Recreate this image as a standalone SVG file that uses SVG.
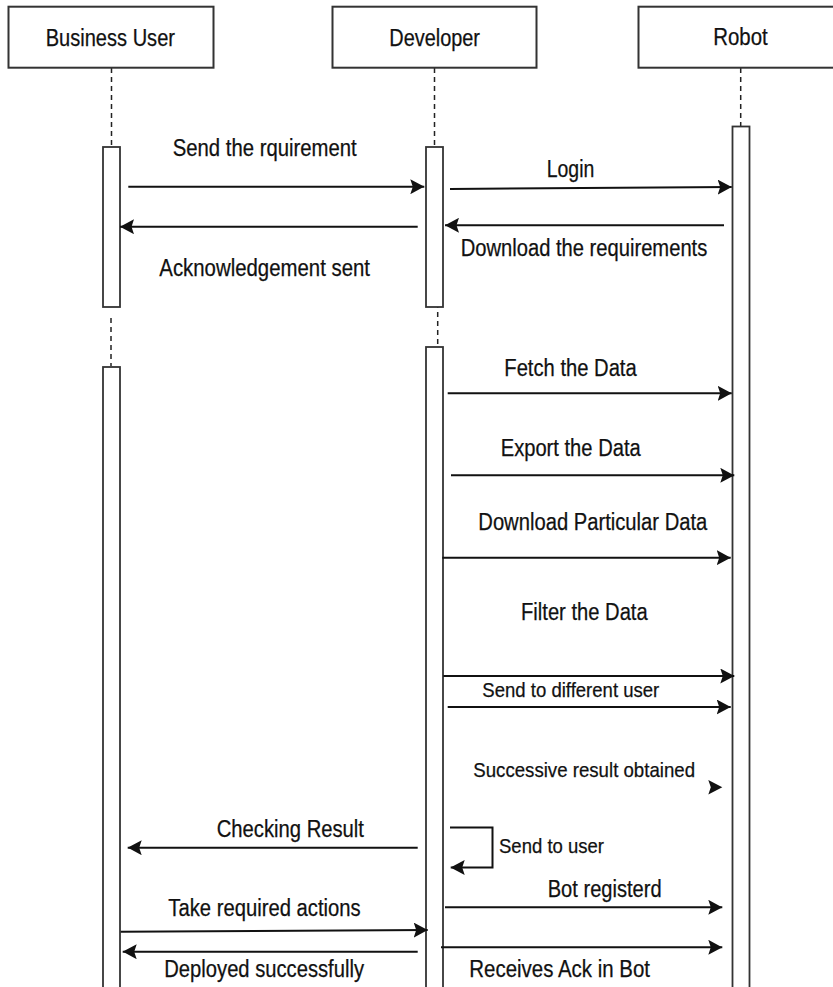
<svg xmlns="http://www.w3.org/2000/svg" width="833" height="987" viewBox="0 0 833 987">
<defs>
<style>
.box{fill:#fff;stroke:#333;stroke-width:2}
.act{fill:#fff;stroke:#333;stroke-width:1.8}
.life{stroke:#222;stroke-width:1.5;stroke-dasharray:5 4;fill:none}
.msg{stroke:#111;stroke-width:2;fill:none;marker-end:url(#ah)}
.t{font-family:"Liberation Sans",Arial,sans-serif;font-size:23px;fill:#111;stroke:#111;stroke-width:0.25}
.s{font-size:21px}
</style>
<marker id="ah" viewBox="0 0 14 15" refX="14" refY="7.5" markerWidth="14" markerHeight="15" markerUnits="userSpaceOnUse" orient="auto">
<path d="M0,0 L14,7.5 L0,15 L2.5,7.5 z" fill="#111"/>
</marker>
</defs>
<rect width="833" height="987" fill="#fff"/>

<g id="lifelines">
<line class="life" x1="111.5" y1="68" x2="111.5" y2="147"/>
<line class="life" x1="111" y1="318" x2="111" y2="366"/>
<line class="life" x1="434.5" y1="68" x2="434.5" y2="147"/>
<line class="life" x1="437.7" y1="303" x2="437.7" y2="352"/>
<line class="life" x1="740.7" y1="68" x2="740.7" y2="126"/>
</g>

<g id="business-user">
<rect class="box" x="8.5" y="6.7" width="205" height="61"/>
<text class="t" x="45.7" y="45.7" textLength="129.3" lengthAdjust="spacingAndGlyphs">Business User</text>
<rect class="act" x="103" y="147" width="17" height="160"/>
<rect class="act" x="103" y="367" width="17" height="630"/>
</g>

<g id="developer">
<rect class="box" x="332.5" y="6.7" width="204" height="61"/>
<text class="t" x="389.3" y="45.7" textLength="90.7" lengthAdjust="spacingAndGlyphs">Developer</text>
<rect class="act" x="426" y="147" width="17" height="160"/>
<rect class="act" x="426" y="347" width="17" height="650"/>
</g>

<g id="robot">
<rect class="box" x="638.5" y="6.7" width="210" height="61"/>
<text class="t" x="713.3" y="45" textLength="54.4" lengthAdjust="spacingAndGlyphs">Robot</text>
<rect class="act" x="732.5" y="126.5" width="17" height="870"/>
</g>

<g id="connectors">
<line class="msg" x1="128.3" y1="186.7" x2="424.3" y2="186.7"/>
<line class="msg" x1="417.7" y1="226.7" x2="120" y2="226.7" stroke="#444"/>
<line class="msg" x1="450" y1="189" x2="731.7" y2="187"/>
<line class="msg" x1="724" y1="225.3" x2="445" y2="225.3"/>
<line class="msg" x1="447.7" y1="393.3" x2="731.7" y2="393.3"/>
<line class="msg" x1="451" y1="475.3" x2="734.3" y2="475.3"/>
<line class="msg" x1="442.3" y1="557.7" x2="730.7" y2="557.7"/>
<line class="msg" x1="443.3" y1="676" x2="734.3" y2="676"/>
<line class="msg" x1="447.7" y1="707" x2="730.7" y2="707"/>
<path d="M708.3,780 L722.3,787.3 L708.3,794.6 L710.8,787.3 z" fill="#111"/>
<line class="msg" x1="417.7" y1="847.7" x2="127.7" y2="847.7"/>
<path class="msg" d="M450,827.5 H492.5 V867.5 H450.7"/>
<line class="msg" x1="445" y1="907.3" x2="722.3" y2="907.3"/>
<line class="msg" x1="120.7" y1="931.7" x2="427.7" y2="930"/>
<line class="msg" x1="417.7" y1="951.7" x2="122.7" y2="951.7"/>
<line class="msg" x1="441" y1="947.3" x2="722.3" y2="947.3"/>
</g>

<g id="labels">
<text class="t" x="172.7" y="156" textLength="184" lengthAdjust="spacingAndGlyphs">Send the rquirement</text>
<text class="t" x="546.7" y="176.7" textLength="47.6" lengthAdjust="spacingAndGlyphs">Login</text>
<text class="t" x="460.7" y="255.7" textLength="246.6" lengthAdjust="spacingAndGlyphs">Download the requirements</text>
<text class="t" x="159.3" y="275.7" textLength="210.7" lengthAdjust="spacingAndGlyphs">Acknowledgement sent</text>
<text class="t" x="504.3" y="375.7" textLength="132.4" lengthAdjust="spacingAndGlyphs">Fetch the Data</text>
<text class="t" x="500.7" y="455.7" textLength="140" lengthAdjust="spacingAndGlyphs">Export the Data</text>
<text class="t" x="478.3" y="530" textLength="229" lengthAdjust="spacingAndGlyphs">Download Particular Data</text>
<text class="t" x="521" y="620" textLength="126.7" lengthAdjust="spacingAndGlyphs" font-size="22">Filter the Data</text>
<text class="t s" x="482.3" y="696.7" textLength="177" lengthAdjust="spacingAndGlyphs">Send to different user</text>
<text class="t s" x="473.3" y="776.7" textLength="221.7" lengthAdjust="spacingAndGlyphs">Successive result obtained</text>
<text class="t" x="216.7" y="836.7" textLength="147.3" lengthAdjust="spacingAndGlyphs">Checking Result</text>
<text class="t s" x="499" y="852.7" textLength="105" lengthAdjust="spacingAndGlyphs">Send to user</text>
<text class="t" x="547.7" y="896.7" textLength="114" lengthAdjust="spacingAndGlyphs">Bot registerd</text>
<text class="t" x="168.3" y="916" textLength="192.4" lengthAdjust="spacingAndGlyphs" font-size="22">Take required actions</text>
<text class="t" x="164.3" y="976.7" textLength="199.7" lengthAdjust="spacingAndGlyphs">Deployed successfully</text>
<text class="t" x="469.3" y="976.7" textLength="180.7" lengthAdjust="spacingAndGlyphs">Receives Ack in Bot</text>
</g>
</svg>
